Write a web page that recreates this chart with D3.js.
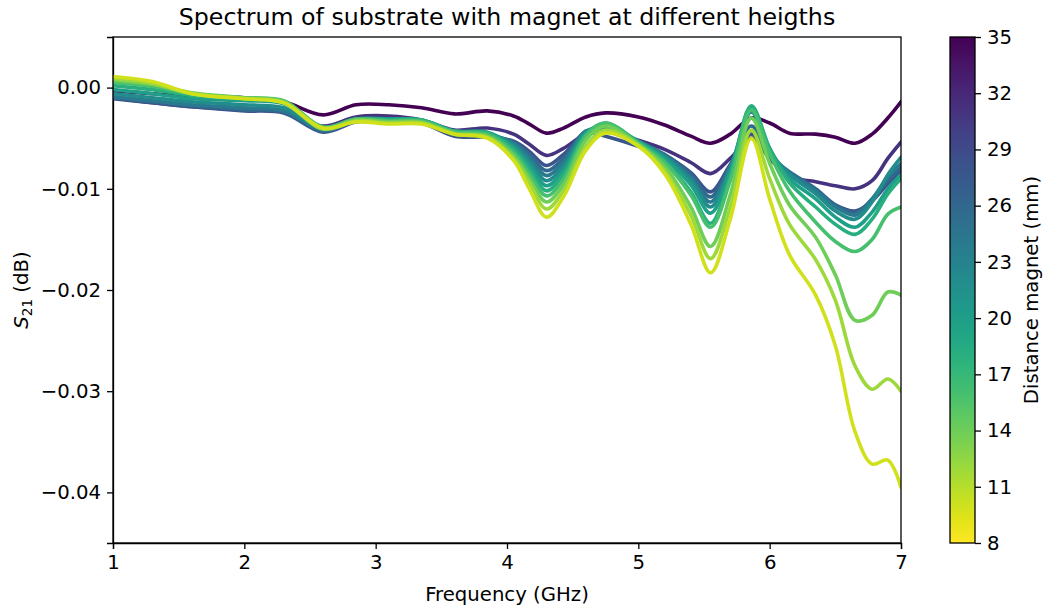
<!DOCTYPE html>
<html>
<head>
    <meta charset="utf-8">
    <script src="https://cdn.jsdelivr.net/npm/d3@7"></script>
    <style>
        body {
            margin: 0;
            background-color: white;
            font-family: "DejaVu Sans", sans-serif;
        }

        .tick text {
            font-size: 19.7px;
            font-family: "DejaVu Sans", sans-serif;
        }

        .tick line, .domain {
            stroke: black;
            stroke-width: 1.3px;
        }
    </style>
</head>
<body>
    <div id="graph"></div>
    <script>
        const w = 1045
        const h = 609
        const margin = { left: 113, right: 144, top: 37, bottom: 66 }

        // frequency grid (GHz)
        const freq = [1.0, 1.3, 1.6, 2.0, 2.3, 2.6, 2.85, 3.1, 3.35, 3.6, 3.85, 4.05, 4.17, 4.3, 4.43, 4.6, 4.75, 5.0, 5.2, 5.4, 5.55, 5.7, 5.86, 6.0, 6.15, 6.35, 6.5, 6.65, 6.78, 6.9, 7.0]

        // S21 (dB) per magnet distance
        const s21_10 = [0.0011, 0.0006, -0.0006, -0.0011, -0.0015, -0.0040, -0.0034, -0.0036, -0.0036, -0.0046, -0.0050, -0.0072, -0.0100, -0.0128, -0.0108, -0.0062, -0.0045, -0.0058, -0.0085, -0.0135, -0.0183, -0.0130, -0.0050, -0.0110, -0.0165, -0.0205, -0.0255, -0.0340, -0.0372, -0.0368, -0.0395]
        const s21_12 = [0.0009, 0.0004, -0.0006, -0.0011, -0.0015, -0.0041, -0.0033, -0.0035, -0.0035, -0.0046, -0.0049, -0.0070, -0.0094, -0.0120, -0.0102, -0.0058, -0.0042, -0.0057, -0.0082, -0.0126, -0.0169, -0.0118, -0.0042, -0.0090, -0.0135, -0.0170, -0.0210, -0.0275, -0.0298, -0.0288, -0.0300]
        const s21_14 = [0.0007, 0.0003, -0.0005, -0.0010, -0.0014, -0.0040, -0.0032, -0.0034, -0.0034, -0.0045, -0.0048, -0.0067, -0.0090, -0.0113, -0.0096, -0.0052, -0.0038, -0.0056, -0.0078, -0.0118, -0.0157, -0.0106, -0.0030, -0.0075, -0.0116, -0.0148, -0.0185, -0.0230, -0.0225, -0.0202, -0.0205]
        const s21_16 = [0.0005, 0.0001, -0.0006, -0.0010, -0.0013, -0.0039, -0.0031, -0.0033, -0.0033, -0.0044, -0.0046, -0.0064, -0.0085, -0.0107, -0.0091, -0.0048, -0.0035, -0.0055, -0.0074, -0.0106, -0.0138, -0.0092, -0.0022, -0.0065, -0.0102, -0.0133, -0.0152, -0.0162, -0.0150, -0.0125, -0.0118]
        const s21_18 = [0.0002, -0.0002, -0.0008, -0.0011, -0.0014, -0.0039, -0.0031, -0.0032, -0.0032, -0.0043, -0.0045, -0.0061, -0.0081, -0.0102, -0.0086, -0.0046, -0.0035, -0.0054, -0.0072, -0.0103, -0.0134, -0.0088, -0.0018, -0.0060, -0.0094, -0.0118, -0.0135, -0.0145, -0.0130, -0.0105, -0.0090]
        const s21_20 = [-0.0002, -0.0006, -0.0011, -0.0013, -0.0016, -0.0040, -0.0031, -0.0031, -0.0032, -0.0043, -0.0044, -0.0059, -0.0077, -0.0097, -0.0082, -0.0045, -0.0037, -0.0053, -0.0070, -0.0096, -0.0124, -0.0083, -0.0020, -0.0060, -0.0090, -0.0110, -0.0128, -0.0138, -0.0123, -0.0100, -0.0086]
        const s21_22 = [-0.0006, -0.0010, -0.0014, -0.0017, -0.0020, -0.0041, -0.0032, -0.0031, -0.0033, -0.0044, -0.0045, -0.0057, -0.0073, -0.0092, -0.0078, -0.0044, -0.0039, -0.0053, -0.0068, -0.0092, -0.0118, -0.0080, -0.0024, -0.0062, -0.0086, -0.0105, -0.0122, -0.0130, -0.0113, -0.0086, -0.0069]
        const s21_24 = [-0.0009, -0.0013, -0.0017, -0.0020, -0.0023, -0.0042, -0.0033, -0.0031, -0.0033, -0.0045, -0.0046, -0.0055, -0.0069, -0.0087, -0.0074, -0.0043, -0.0041, -0.0053, -0.0067, -0.0089, -0.0113, -0.0078, -0.0030, -0.0065, -0.0084, -0.0102, -0.0118, -0.0126, -0.0110, -0.0088, -0.0075]
        const s21_26 = [-0.0010, -0.0014, -0.0018, -0.0022, -0.0024, -0.0043, -0.0033, -0.0031, -0.0034, -0.0046, -0.0047, -0.0054, -0.0066, -0.0082, -0.0070, -0.0043, -0.0043, -0.0054, -0.0066, -0.0086, -0.0108, -0.0077, -0.0038, -0.0068, -0.0083, -0.0100, -0.0116, -0.0124, -0.0110, -0.0092, -0.0079]
        const s21_28 = [-0.0011, -0.0015, -0.0019, -0.0023, -0.0025, -0.0044, -0.0034, -0.0032, -0.0035, -0.0048, -0.0049, -0.0053, -0.0063, -0.0077, -0.0066, -0.0045, -0.0048, -0.0058, -0.0067, -0.0084, -0.0103, -0.0076, -0.0046, -0.0070, -0.0086, -0.0102, -0.0116, -0.0122, -0.0112, -0.0095, -0.0083]
        const s21_31 = [-0.0010, -0.0015, -0.0019, -0.0022, -0.0024, -0.0038, -0.0029, -0.0028, -0.0032, -0.0042, -0.0040, -0.0046, -0.0056, -0.0067, -0.0060, -0.0046, -0.0043, -0.0052, -0.0061, -0.0074, -0.0085, -0.0070, -0.0050, -0.0070, -0.0088, -0.0093, -0.0097, -0.0100, -0.0092, -0.0070, -0.0054]
        const s21_35 = [-0.0003, -0.0006, -0.0008, -0.0010, -0.0014, -0.0027, -0.0017, -0.0017, -0.0020, -0.0026, -0.0023, -0.0028, -0.0036, -0.0045, -0.0040, -0.0029, -0.0025, -0.0029, -0.0037, -0.0048, -0.0055, -0.0046, -0.0030, -0.0035, -0.0045, -0.0046, -0.0049, -0.0055, -0.0046, -0.0030, -0.0014]

        const distances = [35, 31, 28, 26, 24, 22, 20, 18, 16, 14, 12, 10]
        const series = [s21_35, s21_31, s21_28, s21_26, s21_24, s21_22, s21_20, s21_18, s21_16, s21_14, s21_12, s21_10]

        const xTicks = [1, 2, 3, 4, 5, 6, 7]
        const yTicks = [0, -0.01, -0.02, -0.03, -0.04]
        const cbTicks = [8, 11, 14, 17, 20, 23, 26, 29, 32, 35]

        const svg = d3.select('#graph')
            .append('svg')
            .attr('width', w)
            .attr('height', h)

        const xScale = d3.scaleLinear()
            .domain([1, 7])
            .range([margin.left, w - margin.right])
        const yScale = d3.scaleLinear()
            .domain([-0.045, 0.005])
            .range([h - margin.bottom, margin.top])
        const color = d => d3.interpolateViridis(1 - (d - 8) / 27)

        const fmt = d => (d < 0 ? '\u2212' : '') + d3.format('.2f')(Math.abs(d))

        svg.append('g')
            .attr('transform', `translate(0, ${h - margin.bottom})`)
            .call(d3.axisBottom(xScale).tickValues(xTicks).tickFormat(d3.format('d')).tickSize(6).tickPadding(6))
            .call(g => g.selectAll('.tick text').attr('fill', 'black'))

        svg.append('g')
            .attr('transform', `translate(${margin.left}, 0)`)
            .call(d3.axisLeft(yScale).tickValues(yTicks).tickFormat(fmt).tickSize(6).tickPadding(6))
            .call(g => g.selectAll('.tick text').attr('fill', 'black'))

        const line = d3.line()
            .x((d, i) => xScale(freq[i]))
            .y(d => yScale(d))
            .curve(d3.curveCatmullRom.alpha(0.5))

        svg.append('defs').append('clipPath')
            .attr('id', 'clip')
            .append('rect')
            .attr('x', margin.left)
            .attr('y', margin.top)
            .attr('width', w - margin.left - margin.right)
            .attr('height', h - margin.top - margin.bottom)

        svg.append('g')
            .attr('clip-path', 'url(#clip)')
            .selectAll('path')
            .data(series)
            .enter()
            .append('path')
            .attr('d', d => line(d))
            .attr('fill', 'none')
            .attr('stroke', (d, i) => color(distances[i]))
            .attr('stroke-width', 3.6)
            .attr('stroke-linejoin', 'round')
            .attr('stroke-linecap', 'round')

        // frame
        svg.append('rect')
            .attr('x', margin.left)
            .attr('y', margin.top)
            .attr('width', w - margin.left - margin.right)
            .attr('height', h - margin.top - margin.bottom)
            .attr('fill', 'none')
            .attr('stroke', 'black')
            .attr('stroke-width', 1.3)

        svg.append('text')
            .attr('x', (margin.left + w - margin.right) / 2)
            .attr('y', 25)
            .attr('text-anchor', 'middle')
            .style('font-size', '23.7px')
            .text('Spectrum of substrate with magnet at different heigths')

        svg.append('text')
            .attr('x', (margin.left + w - margin.right) / 2)
            .attr('y', 601)
            .attr('text-anchor', 'middle')
            .style('font-size', '19.7px')
            .text('Frequency (GHz)')

        const yl = svg.append('text')
            .attr('transform', `translate(28, ${(margin.top + h - margin.bottom) / 2}) rotate(-90)`)
            .attr('text-anchor', 'middle')
            .style('font-size', '19.7px')
        yl.append('tspan').style('font-style', 'italic').text('S')
        yl.append('tspan').attr('baseline-shift', '-25%').style('font-size', '13.5px').text('21')
        yl.append('tspan').text(' (dB)')

        // colorbar
        const cbX = 950
        const cbW = 25
        const cbScale = d3.scaleLinear()
            .domain([8, 35])
            .range([h - margin.bottom, margin.top])

        const grad = svg.select('defs').append('linearGradient')
            .attr('id', 'cb')
            .attr('x1', 0).attr('y1', 1).attr('x2', 0).attr('y2', 0)
        d3.range(0, 1.0001, 0.05).forEach(t => {
            grad.append('stop')
                .attr('offset', t)
                .attr('stop-color', color(8 + t * 27))
        })

        svg.append('rect')
            .attr('x', cbX)
            .attr('y', margin.top)
            .attr('width', cbW)
            .attr('height', h - margin.top - margin.bottom)
            .attr('fill', 'url(#cb)')
            .attr('stroke', 'black')
            .attr('stroke-width', 1.3)

        svg.append('g')
            .attr('transform', `translate(${cbX + cbW}, 0)`)
            .call(d3.axisRight(cbScale).tickValues(cbTicks).tickFormat(d3.format('d')).tickSize(6).tickPadding(6))
            .call(g => g.select('.domain').remove())
            .call(g => g.selectAll('.tick text').attr('fill', 'black'))

        svg.append('text')
            .attr('transform', `translate(1031, ${(margin.top + h - margin.bottom) / 2}) rotate(-90)`)
            .attr('text-anchor', 'middle')
            .attr('dy', '0.35em')
            .style('font-size', '19.7px')
            .text('Distance magnet (mm)')
    </script>
</body>
</html>
